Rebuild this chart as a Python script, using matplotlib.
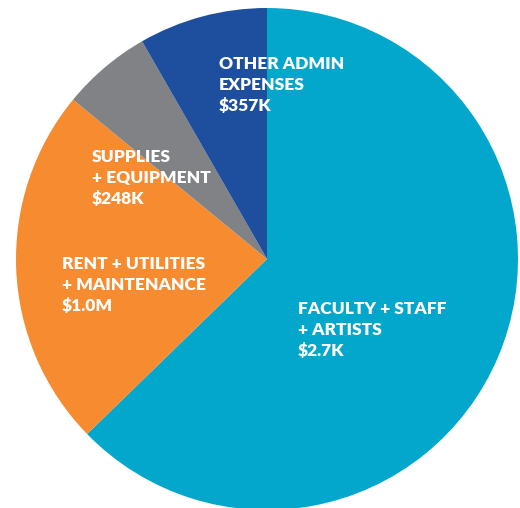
import matplotlib
matplotlib.use("Agg")
import matplotlib.pyplot as plt

categories = ["FACULTY + STAFF\n+ ARTISTS", "RENT + UTILITIES\n+ MAINTENANCE", "SUPPLIES\n+ EQUIPMENT", "OTHER ADMIN\nEXPENSES"]
amounts = [2700, 1000, 248, 357]
amount_labels = ["$2.7K", "$1.0M", "$248K", "$357K"]
colors = ["#04a7cc", "#f68b2f", "#808285", "#1e4f9e"]

W, H = 520, 508
cx, cy, R = 267, 259, 251
fig = plt.figure(figsize=(W / 100, H / 100), dpi=100)
ax = fig.add_axes([(cx - R) / W, (H - cy - R) / H, 2 * R / W, 2 * R / H])
ax.pie(amounts, colors=colors, startangle=90, counterclock=False, radius=1,
       wedgeprops=dict(linewidth=0))
ax.set_xlim(-1, 1)
ax.set_ylim(-1, 1)
ax.axis("off")

# label positions in pixels (left x, middle-line y)
label_pos = [(298, 330), (62, 285), (92, 178), (219, 85)]
for cat, amt, (px, py) in zip(categories, amount_labels, label_pos):
    ax.text((px - cx) / R, (cy - py) / R, cat + "\n" + amt, color="white",
            fontsize=12.5, fontweight="heavy", family=["Lato", "DejaVu Sans"],
            ha="left", va="center", linespacing=1.38)

fig.savefig("out.png", dpi=100)
